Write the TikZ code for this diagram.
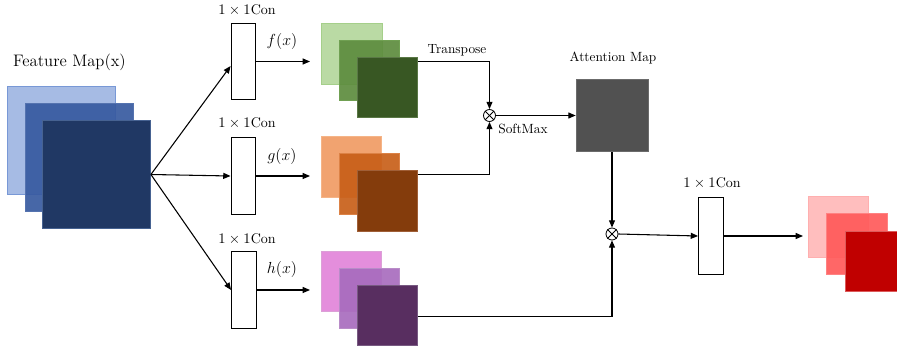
\documentclass[tikz,border=0pt]{standalone}
\usetikzlibrary{arrows.meta,calc}

% layer colours
\definecolor{blueA}{RGB}{166,187,228}\definecolor{blueAb}{RGB}{120,152,214}
\definecolor{blueB}{RGB}{55,90,160}\definecolor{blueBb}{RGB}{85,115,175}
\definecolor{blueC}{RGB}{32,56,100}\definecolor{blueCb}{RGB}{70,98,145}
\definecolor{greenA}{RGB}{186,218,164}\definecolor{greenAb}{RGB}{165,207,138}
\definecolor{greenB}{RGB}{93,140,62}\definecolor{greenBb}{RGB}{112,160,82}
\definecolor{greenC}{RGB}{56,87,35}\definecolor{greenCb}{RGB}{90,120,70}
\definecolor{orangeA}{RGB}{241,163,112}\definecolor{orangeAb}{RGB}{245,180,135}
\definecolor{orangeB}{RGB}{200,95,25}\definecolor{orangeBb}{RGB}{220,130,70}
\definecolor{orangeC}{RGB}{132,60,12}\definecolor{orangeCb}{RGB}{160,95,55}
\definecolor{purpleA}{RGB}{228,142,220}\definecolor{purpleAb}{RGB}{220,160,215}
\definecolor{purpleB}{RGB}{168,108,190}\definecolor{purpleBb}{RGB}{185,140,200}
\definecolor{purpleC}{RGB}{88,46,96}\definecolor{purpleCb}{RGB}{120,90,130}
\definecolor{redA}{RGB}{255,190,190}\definecolor{redAb}{RGB}{255,175,175}
\definecolor{redB}{RGB}{255,90,90}\definecolor{redBb}{RGB}{255,130,130}
\definecolor{redC}{RGB}{192,0,0}\definecolor{redCb}{RGB}{220,90,90}
\definecolor{attgray}{RGB}{81,81,81}

\tikzset{
  layer/.style 2 args={rectangle, inner sep=0pt, fill=#1, draw=#2, line width=0.6pt},
  bigmap/.style={minimum size=81pt},
  smallmap/.style={minimum size=45.5pt},
  convbox/.style={rectangle, draw=black, line width=0.9pt, fill=white,
                  minimum width=18.5pt, minimum height=57.5pt, inner sep=0pt},
  mult/.style={circle, draw=black, line width=0.6pt, fill=white,
               minimum size=9pt, inner sep=0pt},
  lbl/.style={font=\fontsize{10}{12}\selectfont, inner sep=0pt},
  convlbl/.style={font=\fontsize{10.5}{12}\selectfont, inner sep=0pt},
  fnlbl/.style={font=\fontsize{12.5}{14}\selectfont, inner sep=0pt},
  arr/.style={line width=0.8pt, -{Triangle[length=5.5pt,width=4.5pt]}},
  wire/.style={line width=0.8pt}
}

\begin{document}
\begin{tikzpicture}[x=0.75pt,y=-0.75pt]
\useasboundingbox (0,0) rectangle (897,349);

% input feature map
\node[layer={blueA}{blueAb}, bigmap] (fm1) at (61,140) {};
\node[layer={blueB}{blueBb}, bigmap, fill opacity=0.92] (fm2) at (79,157.5) {};
\node[layer={blueC}{blueCb}, bigmap] (fm3) at (96.5,174.5) {};
\node[font=\fontsize{12.5}{15}\selectfont, inner sep=0pt] (fmlbl) at (69.5,62) {Feature Map(x)};

% 1x1 convolutions
\node[convbox] (c1) at (243.5,61.5) {};
\node[convbox] (c2) at (243.5,176) {};
\node[convbox] (c3) at (244,290) {};
\node[convbox] (c4) at (711,236) {};
\node[convlbl] (c1l) at (247,10) {$1\times 1$Con};
\node[convlbl] (c2l) at (247,123.5) {$1\times 1$Con};
\node[convlbl] (c3l) at (247,239) {$1\times 1$Con};
\node[convlbl] (c4l) at (712,183.5) {$1\times 1$Con};

% f(x), g(x), h(x) feature maps
\node[layer={greenA}{greenAb}, smallmap] (g1) at (352,54) {};
\node[layer={greenB}{greenBb}, smallmap, fill opacity=0.92] (g2) at (369.5,70.5) {};
\node[layer={greenC}{greenCb}, smallmap] (g3) at (387.5,87.5) {};
\node[layer={orangeA}{orangeAb}, smallmap] (o1) at (351.5,167) {};
\node[layer={orangeB}{orangeBb}, smallmap, fill opacity=0.92] (o2) at (369.5,184) {};
\node[layer={orangeC}{orangeCb}, smallmap] (o3) at (387.5,201) {};
\node[layer={purpleA}{purpleAb}, smallmap] (p1) at (351.5,281.5) {};
\node[layer={purpleB}{purpleBb}, smallmap, fill opacity=0.92] (p2) at (369.5,298.5) {};
\node[layer={purpleC}{purpleCb}, smallmap] (p3) at (387.5,315.5) {};

\node[fnlbl] (fl) at (282,42) {$f(x)$};
\node[fnlbl] (gl) at (282,157) {$g(x)$};
\node[fnlbl] (hl) at (282,270) {$h(x)$};

% attention map
\node[rectangle, inner sep=0pt, fill=attgray, draw=attgray!85!white, line width=0.5pt,
      minimum width=54pt, minimum height=54.5pt] (att) at (612,115.5) {};
\node[lbl] (attl) at (613,58) {Attention Map};

% output feature map (runs off the right edge)
\node[layer={redA}{redAb}, smallmap] (r1) at (838.5,227) {};
\node[layer={redB}{redBb}, smallmap, fill opacity=0.92] (r2) at (857,244) {};
\node[layer={redC}{redCb}, smallmap] (r3) at (875.5,261.5) {};

% multiplication nodes
\node[mult] (m1) at (489.5,115.5) {};
\node[mult] (m2) at (612,234) {};
\foreach \m in {m1,m2}{
  \draw[line width=0.6pt] (\m.north west) -- (\m.south east);
  \draw[line width=0.6pt] (\m.north east) -- (\m.south west);
}
\node[lbl] (tl) at (457,50) {Transpose};
\node[lbl] (sl) at (523,129) {SoftMax};

% arrow ends in front of the map stacks
\coordinate (fin) at (310,61.5);
\coordinate (gin) at (310,176);
\coordinate (hin) at (310,290);
\coordinate (rin) at (803,236);

% connectors
\draw[arr] (fm3.east) -- ([yshift=-3.4pt]c1.west);
\draw[arr] (fm3.east) -- (c2.west);
\draw[arr] (fm3.east) -- (c3.west);
\draw[arr] (c1.east) -- (fin);
\draw[arr] (c2.east) -- (gin);
\draw[arr] (c3.east) -- (hin);
\draw[arr] ($(g3.north east)+(0,5)$) -| (m1.north);
\draw[arr] ($(o3.north east)+(0,4)$) -| (m1.south);
\draw[arr] (m1.east) -- (att.west);
\draw[arr] (att.south) -- (m2.north);
\draw[arr] ($(p3.north east)+(0,32)$) -| (m2.south);
\draw[arr] (m2.east) -- (c4.west);
\draw[arr] (c4.east) -- (rin);
\end{tikzpicture}
\end{document}
